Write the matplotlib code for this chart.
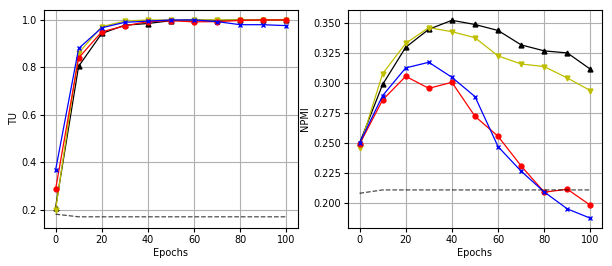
import matplotlib
matplotlib.use("Agg")
import matplotlib.pyplot as plt

epochs = [0, 10, 20, 30, 40, 50, 60, 70, 80, 90, 100]

# TU (left panel)
tu_black = [0.21, 0.805, 0.943, 0.978, 0.985, 0.997, 1.0, 0.998, 1.0, 1.0, 1.0]
tu_yellow = [0.198, 0.861, 0.972, 0.995, 1.0, 1.0, 1.0, 1.0, 1.0, 1.0, 1.0]
tu_red = [0.286, 0.84, 0.95, 0.975, 0.993, 0.997, 0.992, 0.993, 0.998, 1.0, 1.0]
tu_blue = [0.367, 0.88, 0.967, 0.99, 0.995, 1.0, 1.0, 0.993, 0.98, 0.98, 0.976]
tu_base = [0.182, 0.171, 0.171, 0.171, 0.171, 0.171, 0.171, 0.171, 0.171, 0.171, 0.171]

# NPMI (right panel)
npmi_black = [0.250, 0.299, 0.330, 0.345, 0.3525, 0.349, 0.344, 0.332, 0.327, 0.3253, 0.3117]
npmi_yellow = [0.2464, 0.308, 0.3333, 0.3464, 0.343, 0.338, 0.3228, 0.3161, 0.3139, 0.3044, 0.2939]
npmi_red = [0.2492, 0.2861, 0.3058, 0.2958, 0.3008, 0.2725, 0.2558, 0.2311, 0.2092, 0.2117, 0.1983]
npmi_blue = [0.250, 0.2897, 0.3128, 0.3175, 0.305, 0.2889, 0.2472, 0.2267, 0.2094, 0.1953, 0.1875]
npmi_base = [0.2083, 0.2111, 0.2111, 0.2111, 0.2111, 0.2111, 0.2111, 0.2111, 0.2111, 0.2111, 0.2111]

plt.rcParams['font.size'] = 7

fig = plt.figure(figsize=(6.12, 2.66), dpi=100)
ax1 = fig.add_axes([0.0719, 0.143, 0.415, 0.8195])
ax2 = fig.add_axes([0.5686, 0.143, 0.415, 0.8195])


def draw(ax, black, yellow, red, blue, base, ylabel):
    ax.plot(epochs, black, color='k', marker='^', markersize=3.5, linewidth=0.9)
    ax.plot(epochs, yellow, color='y', marker='v', markersize=3.5, linewidth=0.9)
    ax.plot(epochs, red, color='r', marker='o', markersize=3.5, linewidth=0.9)
    ax.plot(epochs, blue, color='b', marker='x', markersize=3.5, linewidth=0.9)
    ax.plot(epochs, base, color='k', linestyle='--', linewidth=0.9, alpha=0.7)
    ax.set_xlabel("Epochs", labelpad=2)
    ax.set_ylabel(ylabel, labelpad=2)
    ax.set_xticks([0, 20, 40, 60, 80, 100])
    ax.grid(True, color='#b0b0b0', linewidth=0.8)
    ax.tick_params(length=3, pad=2)


draw(ax1, tu_black, tu_yellow, tu_red, tu_blue, tu_base, "TU")
ax1.set_yticks([0.2, 0.4, 0.6, 0.8, 1.0])
ax1.set_ylim(0.124, 1.042)

draw(ax2, npmi_black, npmi_yellow, npmi_red, npmi_blue, npmi_base, "NPMI")
ax2.set_yticks([0.200, 0.225, 0.250, 0.275, 0.300, 0.325, 0.350])
ax2.set_ylim(0.1794, 0.3611)

fig.savefig("out.png", dpi=100)
